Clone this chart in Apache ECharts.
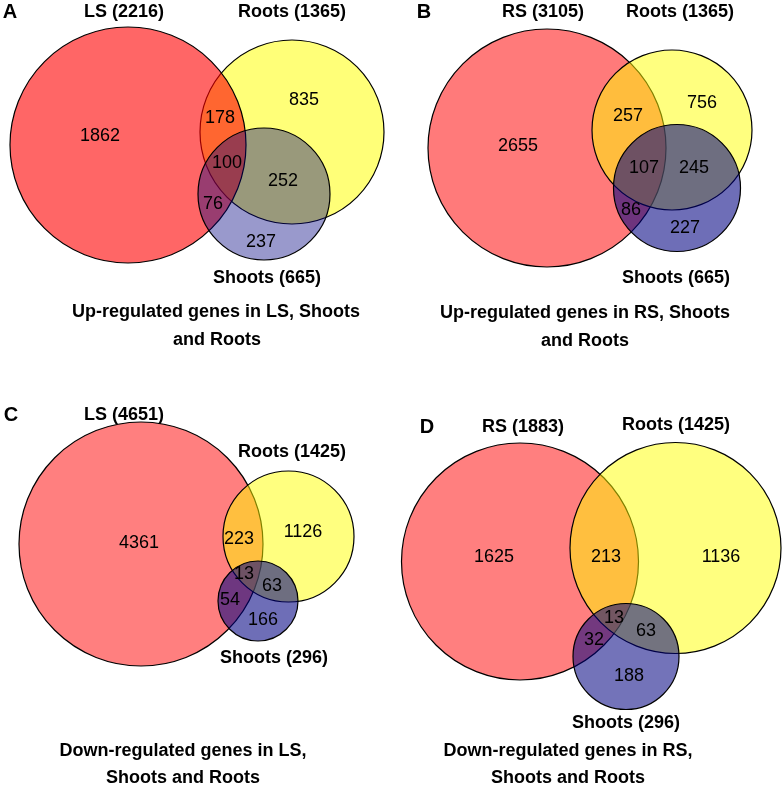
<!DOCTYPE html>
<html>
<head>
<meta charset="utf-8">
<script src="https://cdn.jsdelivr.net/npm/echarts@6/dist/echarts.min.js"></script>
<style>
html,body{margin:0;padding:0;background:#fff;}
#chart{width:784px;height:788px;}
</style>
</head>
<body>
<div id="chart"></div>
<script>
// ---- Data ----
const panelLetters = ['A', 'B', 'C', 'D'];
const setNamesA = ['LS (2216)', 'Roots (1365)', 'Shoots (665)'];
const setNamesB = ['RS (3105)', 'Roots (1365)', 'Shoots (665)'];
const setNamesC = ['LS (4651)', 'Roots (1425)', 'Shoots (296)'];
const setNamesD = ['RS (1883)', 'Roots (1425)', 'Shoots (296)'];
// region counts: [set1 only, 1&2, set2 only, 1&2&3, 2&3, 1&3, set3 only]
const countsA = [1862, 178, 835, 100, 252, 76, 237];
const countsB = [2655, 257, 756, 107, 245, 86, 227];
const countsC = [4361, 223, 1126, 13, 63, 54, 166];
const countsD = [1625, 213, 1136, 13, 63, 32, 188];
const titlesA = ['Up-regulated genes in LS, Shoots', 'and Roots'];
const titlesB = ['Up-regulated genes in RS, Shoots', 'and Roots'];
const titlesC = ['Down-regulated genes in LS,', 'Shoots and Roots'];
const titlesD = ['Down-regulated genes in RS,', 'Shoots and Roots'];

// ---- Layout (chart coordinate space) ----
const circleLayout = [
  [[128, 145, 118], [292, 132, 92], [264, 194, 66]],
  [[547, 148, 119], [672, 130, 80], [677, 188, 63.5]],
  [[141, 544, 122], [288.5, 536.5, 65.5], [258, 601, 40]],
  [[520, 561.5, 118.5], [675.5, 548, 105.5], [626, 656.5, 53]]
];
const drawOrder = [[1, 0, 2], [0, 1, 2], [0, 1, 2], [0, 1, 2]];
const regionPos = [
  [[100,136],[220,118],[304,100],[227,163],[283,181],[213,204],[261,242]],
  [[518,146],[628,116],[702,103],[644,168],[694,168],[631,210],[685,228]],
  [[139,543],[239,539],[303,532],[244,574],[272,586],[230,600],[263,620]],
  [[494,557],[606,557],[721,557],[614,618],[646,631],[594,640],[629,676]]
];
const setNamePos = [
  [[124,12],[292,12],[267,278]],
  [[543,12],[680,12],[676,278]],
  [[124,415],[292,452],[274,658]],
  [[523,427],[676,425],[626,723]]
];
const letterPos = [[10,12],[424,12],[11,415],[427,427]];
const titlePos = [
  [[216,312],[217,340]],
  [[585,313],[585,341]],
  [[183,751],[183,778]],
  [[568,751],[568,778]]
];
// ---- Styles ----
const fills = [
  ['rgba(255,0,0,0.6)', 'rgba(255,255,0,0.53)', 'rgba(0,0,128,0.4)'],
  ['rgba(255,0,0,0.52)', 'rgba(255,255,0,0.5)', 'rgba(0,0,128,0.57)'],
  ['rgba(255,0,0,0.5)', 'rgba(255,255,0,0.5)', 'rgba(0,0,128,0.57)'],
  ['rgba(255,0,0,0.5)', 'rgba(255,255,0,0.5)', 'rgba(0,0,128,0.55)']
];
const FONT = '"Liberation Sans", Arial, Helvetica, sans-serif';

const setNames = [setNamesA, setNamesB, setNamesC, setNamesD];
const counts = [countsA, countsB, countsC, countsD];
const titles = [titlesA, titlesB, titlesC, titlesD];

// build circle data
const circleData = [];
const circleFill = [];
for (let p = 0; p < 4; p++) {
  drawOrder[p].forEach(function (s) {
    const c = circleLayout[p][s];
    circleData.push([c[0], c[1], c[2]]);
    circleFill.push(fills[p][s]);
  });
}
// build text data: [x, y, text, kind]
const textData = [];
for (let p = 0; p < 4; p++) {
  counts[p].forEach(function (v, i) {
    textData.push({value: [regionPos[p][i][0], regionPos[p][i][1]], text: String(v), kind: 'num'});
  });
  setNames[p].forEach(function (n, i) {
    textData.push({value: [setNamePos[p][i][0], setNamePos[p][i][1]], text: n, kind: 'set'});
  });
  textData.push({value: letterPos[p], text: panelLetters[p], kind: 'letter'});
  titles[p].forEach(function (t, i) {
    textData.push({value: titlePos[p][i], text: t, kind: 'title'});
  });
}
const fontFor = {
  num: 'normal 18px ' + FONT,
  set: 'bold 18px ' + FONT,
  letter: 'bold 20px ' + FONT,
  title: 'bold 18px ' + FONT
};

const chart = echarts.init(document.getElementById('chart'), null, {renderer: 'canvas'});
chart.setOption({
  backgroundColor: '#fff',
  animation: false,
  grid: {left: 0, top: 0, right: 0, bottom: 0},
  xAxis: {type: 'value', min: 0, max: 784, show: false},
  yAxis: {type: 'value', min: 0, max: 788, inverse: true, show: false},
  series: [
    {
      type: 'custom',
      coordinateSystem: 'cartesian2d',
      data: circleData,
      silent: true,
      renderItem: function (params, api) {
        const c = api.coord([api.value(0), api.value(1)]);
        const r = api.size([api.value(2), 0])[0];
        return {
          type: 'circle',
          shape: {cx: c[0], cy: c[1], r: r},
          style: {fill: circleFill[params.dataIndex], stroke: '#000', lineWidth: 1.2}
        };
      }
    },
    {
      type: 'custom',
      coordinateSystem: 'cartesian2d',
      data: textData,
      silent: true,
      z: 5,
      renderItem: function (params, api) {
        const d = textData[params.dataIndex];
        const c = api.coord([api.value(0), api.value(1)]);
        return {
          type: 'text',
          x: c[0], y: c[1],
          style: {
            text: d.text,
            font: fontFor[d.kind],
            fill: '#000',
            align: 'center',
            verticalAlign: 'middle'
          }
        };
      }
    }
  ]
});
</script>
</body>
</html>
